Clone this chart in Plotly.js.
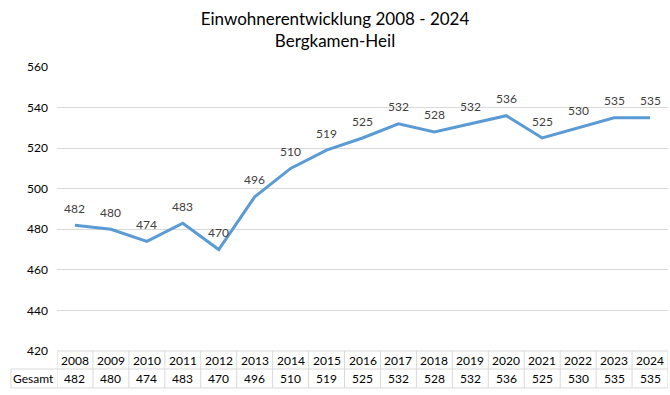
<!DOCTYPE html>
<html>
<head>
<meta charset="utf-8">
<script src="https://cdn.plot.ly/plotly-3.0.1.min.js"></script>
<style>html,body{margin:0;padding:0;background:#fff;}#chart{width:670px;height:395px;}</style>
</head>
<body>
<div id="chart"></div>
<script>
const years = ["2008","2009","2010","2011","2012","2013","2014","2015","2016","2017","2018","2019","2020","2021","2022","2023","2024"];
const gesamt = [482,480,474,483,470,496,510,519,525,532,528,532,536,525,530,535,535];
const seriesName = "Gesamt";
const titleText = "Einwohnerentwicklung 2008 - 2024<br>Bergkamen-Heil";
const yTicks = [420,440,460,480,500,520,540,560];

const FONT = "Lato, 'Open Sans', sans-serif";
const gridCol = "#d9d9d9";
const n = years.length;

// Table geometry in paper units (plot area height = 284px, width = 611px)
const rowMid1 = -0.033, rowLine = -0.0634, rowMid2 = -0.097, rowBottom = -0.130;
const gesamtLeft = -0.0753;

const shapes = [];
const annotations = [];
shapes.push({type:"line", xref:"paper", yref:"paper", x0:gesamtLeft, x1:1, y0:rowLine, y1:rowLine, line:{color:gridCol,width:1}});
shapes.push({type:"line", xref:"paper", yref:"paper", x0:gesamtLeft, x1:1, y0:rowBottom, y1:rowBottom, line:{color:gridCol,width:1}});
shapes.push({type:"line", xref:"paper", yref:"paper", x0:gesamtLeft, x1:gesamtLeft, y0:rowLine, y1:rowBottom, line:{color:gridCol,width:1}});
for (let i = 0; i <= n; i++) {
  shapes.push({type:"line", xref:"x", yref:"paper", x0:i-0.5, x1:i-0.5, y0:0, y1:rowBottom, line:{color:gridCol,width:1}});
}
shapes.push({type:"line", xref:"paper", yref:"paper", x0:0, x1:1, y0:0, y1:0, line:{color:gridCol,width:1}});

years.forEach((yr, i) => {
  annotations.push({xref:"x", yref:"paper", x:i, y:rowMid1, text:yr, showarrow:false, font:{family:FONT,size:12,color:"#000"}, xanchor:"center", yanchor:"middle"});
  annotations.push({xref:"x", yref:"paper", x:i, y:rowMid2, text:String(gesamt[i]), showarrow:false, font:{family:FONT,size:12,color:"#000"}, xanchor:"center", yanchor:"middle"});
  // data labels
  annotations.push({xref:"x", yref:"y", x:i, y:gesamt[i], yshift:17, text:String(gesamt[i]), showarrow:false, font:{family:FONT,size:12,color:"#404040"}, xanchor:"center", yanchor:"middle"});
});
annotations.push({xref:"paper", yref:"paper", x:gesamtLeft/2, y:rowMid2, text:seriesName, showarrow:false, font:{family:FONT,size:12,color:"#000"}, xanchor:"center", yanchor:"middle"});

const trace = {
  type:"scatter", mode:"lines",
  x: years.map((_, i) => i), y: gesamt,
  line:{color:"#5b9bd5", width:3},
  cliponaxis:false, name:seriesName, hoverinfo:"skip"
};

const layout = {
  width:670, height:395,
  margin:{l:57, r:2, t:67, b:44},
  paper_bgcolor:"#fff", plot_bgcolor:"#fff",
  showlegend:false,
  title:{text:titleText, font:{family:FONT,size:17,color:"#000"}, x:0.5, xanchor:"center", y:0.937, yanchor:"top"},
  xaxis:{range:[-0.5, n-0.5], showgrid:false, zeroline:false, showticklabels:false, ticks:"", showline:false, fixedrange:true},
  yaxis:{range:[420,560], tickvals:yTicks, ticktext:yTicks.map(String), showgrid:true, gridcolor:gridCol, gridwidth:1, zeroline:false, showline:false, ticks:"", ticklabelstandoff:8, tickfont:{family:FONT,size:12,color:"#000"}},
  shapes: shapes, annotations: annotations,
  font:{family:FONT}
};

Plotly.newPlot("chart", [trace], layout, {displayModeBar:false, staticPlot:true});
</script>
</body>
</html>
